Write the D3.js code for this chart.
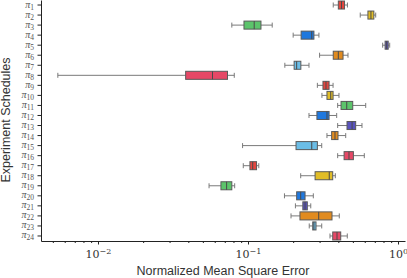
<!DOCTYPE html>
<html>
<head>
<meta charset="utf-8">
<script src="https://cdn.jsdelivr.net/npm/d3@7"></script>
<style>
  body { margin: 0; background: #fff; }
  svg { display: block; }
</style>
</head>
<body>
<script>
// schedules pi_1 .. pi_24, five-number summaries
const schedules = d3.range(1, 25).map(i => `pi${i}`);
const mins    = [0.37, 0.56, 0.078, 0.20, 0.79, 0.30, 0.176, 0.0054, 0.29, 0.311, 0.396, 0.255, 0.396, 0.336, 0.092, 0.396, 0.093, 0.2245, 0.055, 0.175, 0.207, 0.1935, 0.256, 0.352];
const q1s     = [0.40, 0.63, 0.094, 0.226, 0.82, 0.37, 0.203, 0.0384, 0.316, 0.336, 0.417, 0.288, 0.457, 0.361, 0.209, 0.437, 0.103, 0.28, 0.066, 0.211, 0.232, 0.222, 0.27, 0.367];
const medians = [0.42, 0.66, 0.11, 0.266, 0.84, 0.40, 0.211, 0.058, 0.331, 0.356, 0.455, 0.336, 0.494, 0.38, 0.266, 0.471, 0.1075, 0.348, 0.072, 0.2245, 0.24, 0.296, 0.275, 0.392];
const q3s     = [0.44, 0.69, 0.122, 0.275, 0.86, 0.43, 0.225, 0.073, 0.347, 0.369, 0.499, 0.347, 0.522, 0.398, 0.29, 0.504, 0.114, 0.367, 0.078, 0.24, 0.2485, 0.363, 0.284, 0.415];
const maxs    = [0.46, 0.71, 0.145, 0.297, 0.88, 0.464, 0.255, 0.081, 0.369, 0.404, 0.609, 0.39, 0.575, 0.448, 0.31, 0.596, 0.118, 0.382, 0.0815, 0.2725, 0.262, 0.406, 0.31, 0.459];
const palette = ['#e3463f', '#e1bd27', '#5cc46b', '#1f78de', '#5953bd', '#e18b1f', '#6bbde6', '#e64866'];
const majorTicks = [1e-2, 1e-1, 1e0];
const tickExps = ['\u22122', '\u22121', '0'];

const width = 407, height = 278;
const margin = { top: 0, right: 2, bottom: 37, left: 41 };

const data = schedules.map((s, i) => ({
  name: s, idx: i + 1,
  min: mins[i], q1: q1s[i], med: medians[i], q3: q3s[i], max: maxs[i],
  color: palette[i % palette.length]
}));

const svg = d3.select('body').append('svg')
    .attr('width', width)
    .attr('height', height)
    .attr('viewBox', [0, 0, width, height]);

const x = d3.scaleLog()
    .domain([0.00417, 1.113])
    .range([margin.left, width - margin.right]);

const y = d3.scaleBand()
    .domain(schedules)
    .range([margin.top, height - margin.bottom]);

// boxes
const boxH = y.bandwidth() * 0.8;
const g = svg.append('g')
  .selectAll('g')
  .data(data)
  .join('g')
    .attr('transform', d => `translate(0,${y(d.name) + y.bandwidth() / 2})`);

g.append('line')
    .attr('x1', d => x(d.min)).attr('x2', d => x(d.q1))
    .attr('stroke', '#7a7a7a').attr('stroke-width', 1);
g.append('line')
    .attr('x1', d => x(d.q3)).attr('x2', d => x(d.max))
    .attr('stroke', '#7a7a7a').attr('stroke-width', 1);
g.append('line')
    .attr('x1', d => x(d.min)).attr('x2', d => x(d.min))
    .attr('y1', -2.5).attr('y2', 2.5)
    .attr('stroke', '#7a7a7a').attr('stroke-width', 1);
g.append('line')
    .attr('x1', d => x(d.max)).attr('x2', d => x(d.max))
    .attr('y1', -2.5).attr('y2', 2.5)
    .attr('stroke', '#7a7a7a').attr('stroke-width', 1);
g.append('rect')
    .attr('x', d => x(d.q1))
    .attr('y', -boxH / 2)
    .attr('width', d => x(d.q3) - x(d.q1))
    .attr('height', boxH)
    .attr('fill', d => d.color)
    .attr('stroke', '#5a5a5a')
    .attr('stroke-width', 1);
g.append('line')
    .attr('x1', d => x(d.med)).attr('x2', d => x(d.med))
    .attr('y1', -boxH / 2).attr('y2', boxH / 2)
    .attr('stroke', '#4a4a4a').attr('stroke-width', 1);

// x axis: minor ticks + major ticks with 10^n labels
const [d0, d1] = x.domain();
const minor = [];
for (let e = -3; e <= 0; e++) {
  for (let m = 2; m <= 9; m++) {
    const v = m * Math.pow(10, e);
    if (v >= d0 && v <= d1) minor.push(v);
  }
}
const gx = svg.append('g')
    .attr('transform', `translate(0,${height - margin.bottom})`);
gx.call(d3.axisBottom(x).tickValues(minor).tickSize(2).tickFormat('').tickSizeOuter(0));
const gxMajor = svg.append('g')
    .attr('transform', `translate(0,${height - margin.bottom})`)
    .call(d3.axisBottom(x).tickValues(majorTicks).tickSize(3.5).tickSizeOuter(0).tickFormat(() => ''));
gxMajor.select('.domain').remove();
svg.selectAll('.tick line').attr('stroke', '#222');
gx.select('.domain').attr('stroke', '#222');

gxMajor.selectAll('.tick').append('text')
    .attr('fill', '#333')
    .attr('y', 17)
    .attr('text-anchor', 'middle')
    .style('font-family', '"DejaVu Serif", serif')
    .style('font-size', '11px')
    .each(function (d, i) {
      const t = d3.select(this);
      t.append('tspan').text('10');
      t.append('tspan').attr('dy', -4.5).style('font-size', '8px').text(tickExps[i]);
    });

// y axis with pi_n labels
const gy = svg.append('g')
    .attr('transform', `translate(${margin.left},0)`)
    .call(d3.axisLeft(y).tickSize(3.5).tickSizeOuter(0).tickFormat(() => ''));
gy.select('.domain').attr('stroke', '#222');
gy.selectAll('.tick line').attr('stroke', '#222');
gy.selectAll('.tick').append('text')
    .attr('fill', '#555')
    .attr('x', -7)
    .attr('dy', '0.25em')
    .attr('text-anchor', 'end')
    .style('font-family', '"Liberation Serif", serif')
    .style('font-size', '10px')
    .each(function (d, i) {
      const t = d3.select(this);
      t.append('tspan').style('font-style', 'italic').text('\u03c0');
      t.append('tspan').attr('dy', 2).style('font-size', '7.5px').text(i + 1);
    });

// axis titles
svg.append('text')
    .attr('x', 223)
    .attr('y', 274.5)
    .attr('text-anchor', 'middle')
    .attr('fill', '#333')
    .style('font-family', '"Liberation Sans", Arial, sans-serif')
    .style('font-size', '12.5px')
    .text('Normalized Mean Square Error');

svg.append('text')
    .attr('transform', 'translate(10,120) rotate(-90)')
    .attr('text-anchor', 'middle')
    .attr('fill', '#333')
    .style('font-family', '"Liberation Sans", Arial, sans-serif')
    .style('font-size', '12.5px')
    .text('Experiment Schedules');
</script>
</body>
</html>
